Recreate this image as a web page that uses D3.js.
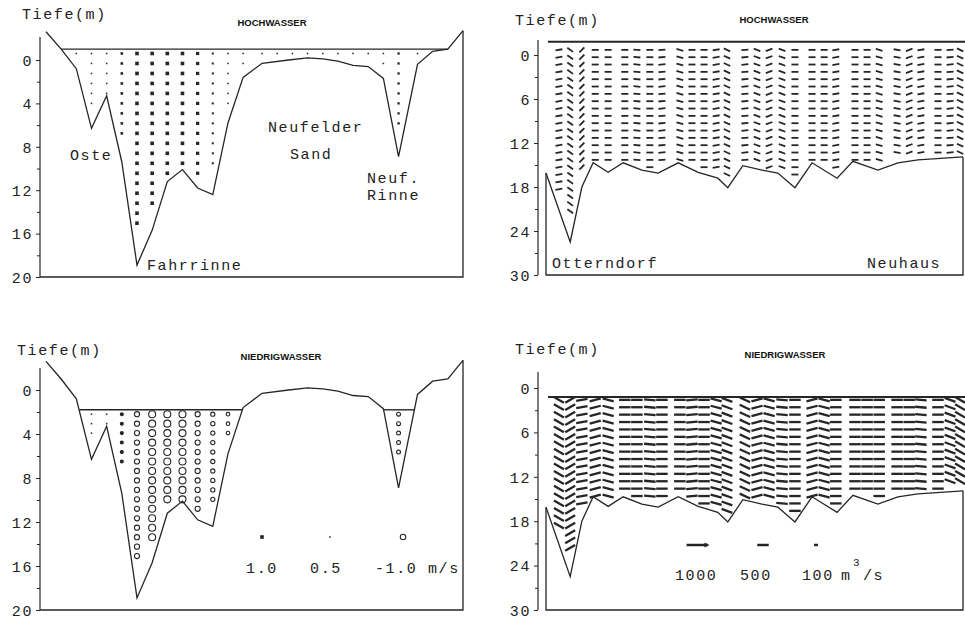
<!DOCTYPE html>
<html>
<head>
<meta charset="utf-8">
<script src="https://cdn.jsdelivr.net/npm/d3@7"></script>
<style>
  body { margin: 0; background: #fff; }
  svg { display: block; background: #fff; }
  .mono { font-family: "Liberation Mono", "DejaVu Sans Mono", monospace; font-size: 15px; letter-spacing: 1.6px; fill: #222; }
  .title { font-family: "Liberation Sans", Arial, sans-serif; font-weight: bold; font-size: 9.5px; fill: #111; }
</style>
</head>
<body>
<div id="chart"></div>
<script>
// Left cross-section (Oste / Fahrrinne / Neufelder Sand), distance in km, depth in m
const leftBedKm    = [0, 0.2, 0.4, 0.6, 0.8, 1.0, 1.2, 1.4, 1.6, 1.8, 2.0, 2.2, 2.4, 2.6, 2.85, 3.2, 3.45, 3.65, 3.85, 4.05, 4.25, 4.45, 4.65, 4.9, 5.1, 5.3, 5.5];
const leftBedDepth = [-2.6, -1.0, 0.8, 6.3, 3.3, 9.4, 18.9, 15.7, 11.2, 10.1, 11.8, 12.4, 5.8, 1.6, 0.3, 0.0, -0.2, -0.1, 0.1, 0.5, 0.6, 1.7, 8.9, 0.4, -0.8, -1.0, -2.7];

// measurement verticals and velocities (m/s, + flood, - ebb)
const leftColKm  = [0.4, 0.6, 0.8, 1.0, 1.2, 1.4, 1.6, 1.8, 2.0, 2.2, 2.4, 2.6, 2.85, 3.05, 3.25, 3.45, 3.65, 3.85, 4.05, 4.25, 4.45, 4.65, 4.9];
const hwVelocity = [0.3, 0.35, 0.6, 0.85, 1.0, 1.0, 1.0, 1.0, 0.95, 0.75, 0.4, 0.3, 0.3, 0.3, 0.3, 0.3, 0.3, 0.3, 0.3, 0.35, 0.5, 0.8, 0.4];
const nwVelocity = [0, 0.2, 0.2, -0.35, -0.7, -1.0, -1.0, -1.0, -0.7, -0.55, -0.45, 0, 0, 0, 0, 0, 0, 0, 0, 0, 0, -0.5, 0];
const leftTicks = [0, 4, 8, 12, 16, 20];
const leftMinor = [2, 6, 10, 14, 18];
const legendVelocity = [1.0, 0.5, -1.0];

// Right longitudinal section Otterndorf - Neuhaus (relative distance 0..100)
const rightBedX     = [0, 5.8, 8.6, 11.3, 14.9, 18.5, 23.0, 26.9, 31.7, 36.5, 41.2, 43.6, 47.2, 51.8, 55.6, 59.7, 63.8, 69.8, 73.6, 79.6, 84.4, 89.2, 100];
const rightBedDepth = [16.1, 25.5, 18.0, 14.7, 16.0, 14.7, 15.7, 16.1, 14.7, 16.0, 16.8, 18.1, 15.1, 15.7, 16.1, 18.1, 14.7, 16.8, 14.5, 15.7, 14.7, 14.3, 13.9];
const rightColX = [3.1, 5.8, 8.6, 11.8, 14.9, 18.9, 21.8, 24.9, 27.8, 32.1, 35.0, 37.9, 40.8, 43.4,
                   47.7, 50.6, 53.5, 56.6, 59.7, 63.8, 66.7, 69.5, 74.1, 77.0, 79.9, 84.2, 87.1, 89.9, 94.0, 96.9, 99.3];
// flow direction of the discharge dashes (degrees)
const hwAngle = [-10, 35, -45, 0, 0, 0, 5, 0, -5, 15, 0, 0, -10, 25, -5, 20, -20, 20, 0, 0, 0, -10, 0, 0, 15, 10, -20, -10, 0, -5, 25];
const nwAngle = [30, -30, -10, -15, 15, 0, 0, 5, 0, 0, -5, 0, 15, 20, 25, -15, 15, 5, 0, -15, 15, 0, 0, 0, 0, 0, 0, 5, 0, 20, 30];
const rightTicks = [0, 6, 12, 18, 24, 30];
const rightMinor = [3, 9, 15, 21, 27];
const legendQ = [1000, 500, 100];

const ink = "#262626";

const svg = d3.select("#chart").append("svg")
    .attr("width", 965)
    .attr("height", 623);

function interp(xs, ds, x) {
    for (let i = 0; i < xs.length - 1; i++) {
        if (x >= xs[i] && x <= xs[i + 1]) {
            const t = (x - xs[i]) / (xs[i + 1] - xs[i]);
            return ds[i] + t * (ds[i + 1] - ds[i]);
        }
    }
    return x < xs[0] ? ds[0] : ds[ds.length - 1];
}

// stretches where the bed lies below the water level
function wetIntervals(xs, ds, w) {
    const out = [];
    let start = null;
    for (let i = 0; i < xs.length - 1; i++) {
        const a = ds[i] > w, b = ds[i + 1] > w;
        const cross = xs[i] + (w - ds[i]) / (ds[i + 1] - ds[i]) * (xs[i + 1] - xs[i]);
        if (!a && b) start = cross;
        if (a && !b && start !== null) { out.push([start, cross]); start = null; }
    }
    return out;
}

function drawAxis(g, y, ax, top, bottom, ticks, minor) {
    g.append("line")
        .attr("x1", ax).attr("x2", ax).attr("y1", top).attr("y2", bottom)
        .attr("stroke", ink).attr("stroke-width", 1.2);
    const major = g.append("g").attr("transform", `translate(${ax},0)`)
        .call(d3.axisLeft(y).tickValues(ticks).tickSize(4).tickPadding(3).tickFormat(d3.format("d")));
    major.select(".domain").remove();
    major.selectAll("line").attr("stroke", ink);
    major.selectAll("text").attr("class", "mono").attr("dy", "0.35em");
    const mn = g.append("g").attr("transform", `translate(${ax},0)`)
        .call(d3.axisLeft(y).tickValues(minor).tickSize(3).tickFormat(""));
    mn.select(".domain").remove();
    mn.selectAll("line").attr("stroke", ink);
}

function label(g, txt, x, y, anchor) {
    g.append("text").attr("class", "mono").attr("x", x).attr("y", y)
        .attr("text-anchor", anchor || "start").text(txt);
}

function velocityMark(g, cx, cy, v) {
    if (v > 0) {
        const s = Math.max(1.5, 3.6 * v * v);
        g.append("rect").attr("x", cx - s / 2).attr("y", cy - s / 2)
            .attr("width", s).attr("height", s).attr("fill", ink);
    } else if (v < 0) {
        const r = 0.4 + 3.1 * Math.abs(v);
        g.append("circle").attr("cx", cx).attr("cy", cy).attr("r", r)
            .attr("fill", Math.abs(v) < 0.42 ? ink : "none")
            .attr("stroke", ink).attr("stroke-width", 1.1);
    }
}

// ---------- left panels (velocity) ----------
function leftPanel(cfg) {
    const g = svg.append("g");
    const x = d3.scaleLinear().domain([0, 5.5]).range([46, 463]);
    const y = d3.scaleLinear().domain([0, 20]).range(cfg.yRange);
    const bottom = cfg.yRange[1];

    drawAxis(g, y, 40, cfg.axisTop, bottom, leftTicks, leftMinor);

    const pts = leftBedKm.map((k, i) => [x(k), y(leftBedDepth[i])]);
    g.append("path")
        .attr("d", d3.line()(pts))
        .attr("fill", "none").attr("stroke", ink).attr("stroke-width", 1.3);
    g.append("path")
        .attr("d", d3.line()([[40, bottom], [463, bottom], [463, pts[pts.length - 1][1]]]))
        .attr("fill", "none").attr("stroke", ink).attr("stroke-width", 1.3);

    wetIntervals(leftBedKm, leftBedDepth, cfg.water).forEach(([a, b]) => {
        g.append("line")
            .attr("x1", x(a)).attr("x2", x(b)).attr("y1", y(cfg.water)).attr("y2", y(cfg.water))
            .attr("stroke", ink).attr("stroke-width", 1.4);
    });

    leftColKm.forEach((k, i) => {
        const v = cfg.velocity[i];
        if (!v) return;
        const lim = Math.min(interp(leftBedKm, leftBedDepth, k - 0.06), interp(leftBedKm, leftBedDepth, k + 0.06)) - 0.3;
        cfg.rows.forEach(r => {
            if (r > cfg.water && r < lim) velocityMark(g, x(k), y(r), v);
        });
    });

    label(g, "Tiefe(m)", cfg.tiefe[0], cfg.tiefe[1]);
    g.append("text").attr("class", "title").attr("x", cfg.title[1]).attr("y", cfg.title[2])
        .attr("text-anchor", "middle").text(cfg.title[0]);
    return g;
}

const tl = leftPanel({
    yRange: [60, 277], axisTop: 37, water: -1.0, velocity: hwVelocity,
    rows: d3.range(-0.6, 20, 0.92), tiefe: [22, 19], title: ["HOCHWASSER", 272, 26]
});
label(tl, "Oste", 70, 160);
label(tl, "Neufelder", 268, 132);
label(tl, "Sand", 290, 159);
label(tl, "Neuf.", 367, 183);
label(tl, "Rinne", 367, 200);
label(tl, "Fahrrinne", 147, 270);

const bl = leftPanel({
    yRange: [390, 610], axisTop: 368, water: 1.8, velocity: nwVelocity,
    rows: d3.range(2.2, 20, 0.86), tiefe: [17, 355], title: ["NIEDRIGWASSER", 281, 360]
});
const legX = [262, 330, 403];
legendVelocity.forEach((v, i) => velocityMark(bl, legX[i], 537, v * (i === 2 ? 0.75 : 1)));
label(bl, "1.0", 262, 573, "middle");
label(bl, "0.5", 326, 573, "middle");
label(bl, "-1.0 m/s", 375, 573);

// ---------- right panels (discharge) ----------
function rightPanel(cfg) {
    const g = svg.append("g");
    const x = d3.scaleLinear().domain([0, 100]).range([546, 963]);
    const y = d3.scaleLinear().domain([0, 30]).range(cfg.yRange);
    const bottom = cfg.yRange[1];

    drawAxis(g, y, 538, cfg.axisTop, bottom, rightTicks, rightMinor);

    const pts = rightBedX.map((k, i) => [x(k), y(rightBedDepth[i])]);
    g.append("path")
        .attr("d", d3.line()(pts))
        .attr("fill", "none").attr("stroke", ink).attr("stroke-width", 1.3);
    g.append("path")
        .attr("d", d3.line()([[546, pts[0][1]], [546, bottom], [963, bottom], [963, pts[pts.length - 1][1]]]))
        .attr("fill", "none").attr("stroke", ink).attr("stroke-width", 1.3);
    g.append("line")
        .attr("x1", 548).attr("x2", 965).attr("y1", y(cfg.water)).attr("y2", y(cfg.water))
        .attr("stroke", ink).attr("stroke-width", 2);

    rightColX.forEach((k, i) => {
        const a = cfg.angle[i] * Math.PI / 180;
        const dx = Math.cos(a) * cfg.dash / 2, dy = Math.sin(a) * cfg.dash / 2;
        const lim = Math.min(interp(rightBedX, rightBedDepth, k - 1.2), interp(rightBedX, rightBedDepth, k + 1.2)) - 0.4;
        d3.range(cfg.water + cfg.firstRow, 30, 1.0).forEach(r => {
            if (r >= lim) return;
            const cx = x(k), cy = y(r);
            g.append("line")
                .attr("x1", cx - dx).attr("y1", cy - dy).attr("x2", cx + dx).attr("y2", cy + dy)
                .attr("stroke", ink).attr("stroke-width", cfg.width);
        });
    });

    label(g, "Tiefe(m)", 515, cfg.tiefeY);
    g.append("text").attr("class", "title").attr("x", cfg.title[1]).attr("y", cfg.title[2])
        .attr("text-anchor", "middle").text(cfg.title[0]);
    return g;
}

const tr = rightPanel({
    yRange: [55, 275], axisTop: 40, water: -1.8, firstRow: 1.1, angle: hwAngle,
    dash: 7, width: 1.8, tiefeY: 25, title: ["HOCHWASSER", 774, 23]
});
label(tr, "Otterndorf", 552, 268);
label(tr, "Neuhaus", 867, 268);

const br = rightPanel({
    yRange: [388, 610], axisTop: 372, water: 1.2, firstRow: 0.4, angle: nwAngle,
    dash: 11.5, width: 2.3, tiefeY: 354, title: ["NIEDRIGWASSER", 785, 358]
});
const qLen = d3.scaleLinear().domain([0, 1000]).range([2, 21]);
const qX = [697, 763, 816];
legendQ.forEach((q, i) => {
    const L = qLen(q);
    br.append("line")
        .attr("x1", qX[i] - L / 2).attr("x2", qX[i] + L / 2).attr("y1", 545).attr("y2", 545)
        .attr("stroke", ink).attr("stroke-width", 2.5);
    if (i === 0) {
        br.append("path")
            .attr("d", `M${qX[i] + L / 2 + 2},545 l-5,-2.5 l0,5 z`)
            .attr("fill", ink);
    }
});
label(br, "1000", 675, 580);
label(br, "500", 740, 580);
label(br, "100", 802, 580);
label(br, "m", 841, 580);
br.append("text").attr("class", "mono").attr("x", 853).attr("y", 566)
    .style("font-size", "11px").text("3");
label(br, "/s", 863, 580);
</script>
</body>
</html>
